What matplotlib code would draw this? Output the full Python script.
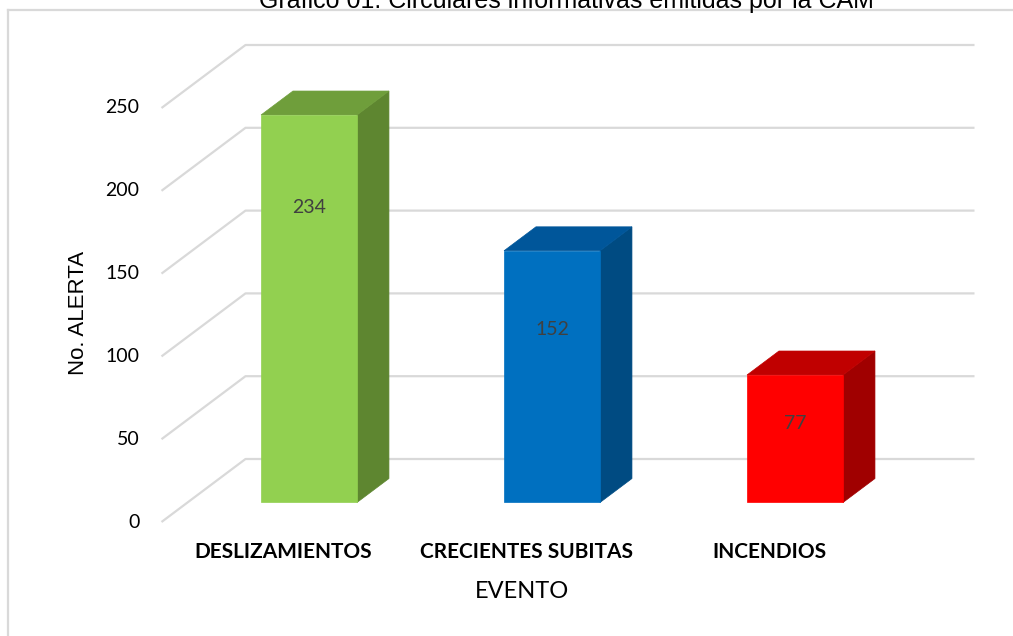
import numpy as np
import matplotlib.pyplot as plt
from matplotlib.patches import Polygon
from matplotlib.lines import Line2D

# Data
eventos = ['DESLIZAMIENTOS', 'CRECIENTES SUBITAS', 'INCENDIOS']
alertas = [234, 152, 77]
y_ticks = [0, 50, 100, 150, 200, 250]

# Face colours per bar: front, top, side
front_col = ['#92D050', '#0070C0', '#FF0000']
top_col   = ['#6F9E3B', '#00569A', '#C00000']
side_col  = ['#5E8630', '#004B82', '#A00000']

W, H = 1013, 636
fig = plt.figure(figsize=(W / 100, H / 100), dpi=100)
ax = fig.add_axes([0, 0, 1, 1])
ax.set_axis_off()

# Pseudo-3D layout: one category = 243 px, one alert = 1.656 px
PX_CAT, PX_VAL = 243.0, 1.656
X0_PX, Y0_PX = 283.0, 522.0          # category 0 / value 0 on the front plane
ax.set_xlim(-X0_PX / PX_CAT, (W - X0_PX) / PX_CAT)
ax.set_ylim(-(H - Y0_PX) / PX_VAL, Y0_PX / PX_VAL)

DX = 84 / PX_CAT   # oblique shift for full depth
DY = 63 / PX_VAL
WALL_L, WALL_R = -0.5, 2.5
BAR_W = 0.395
D_FRONT, D_BACK = 0.31, 0.69


def proj(x, v, d):
    return (x + d * DX, v + d * DY)


# Gridlines on the side and back walls
grid_kw = dict(color='#D9D9D9', lw=1.6, zorder=1, solid_capstyle='butt')
for t in y_ticks:
    pts = [proj(WALL_L, t, 0), proj(WALL_L, t, 1), proj(WALL_R, t, 1)]
    ax.plot([p[0] for p in pts], [p[1] for p in pts], **grid_kw)
    x, y = proj(WALL_L, t, 0)
    ax.text(x - 22 / PX_CAT, y, str(t), ha='right', va='center',
            fontsize=14, family='Lato', color='#000000')

# Bars
for i, (v, fc, tc, sc) in enumerate(zip(alertas, front_col, top_col, side_col)):
    xl, xr = i - BAR_W / 2, i + BAR_W / 2
    front = [proj(xl, 0, D_FRONT), proj(xr, 0, D_FRONT),
             proj(xr, v, D_FRONT), proj(xl, v, D_FRONT)]
    top = [proj(xl, v, D_FRONT), proj(xr, v, D_FRONT),
           proj(xr, v, D_BACK), proj(xl, v, D_BACK)]
    side = [proj(xr, 0, D_FRONT), proj(xr, v, D_FRONT),
            proj(xr, v, D_BACK), proj(xr, 0, D_BACK)]
    ax.add_patch(Polygon(side, closed=True, fc=sc, ec=sc, lw=0.5, zorder=2))
    ax.add_patch(Polygon(top, closed=True, fc=tc, ec=tc, lw=0.5, zorder=2))
    ax.add_patch(Polygon(front, closed=True, fc=fc, ec=fc, lw=0.5, zorder=3))

    # value label sits a bit above the middle of the front face
    lv = v * (0.55 + 0.0009 * v)
    lx, ly = proj(i, lv, D_FRONT)
    ax.text(lx, ly, str(v), ha='center', va='center', fontsize=14,
            family='Lato', color='#404040', zorder=4)

    # category label under the bar
    cx, _ = proj(i, 0, 0)
    ax.text(cx, -(552 - Y0_PX) / PX_VAL, eventos[i], ha='center', va='center',
            fontsize=15, family='Lato', fontweight='bold', color='#000000')

# Axis titles and chart title
fig.text(522 / W, 1 - 592 / H, 'EVENTO', ha='center', va='center',
         fontsize=17, family='Lato', color='#000000')
fig.text(78 / W, 1 - 313 / H, 'No. ALERTA', ha='center', va='center',
         rotation=90, fontsize=16, family='Liberation Sans', color='#000000')
fig.text(566 / W, 1 - 8 / H, 'Gráfico 01. Circulares informativas emitidas por la CAM',
         ha='center', va='baseline', fontsize=18, family='Liberation Sans',
         color='#000000')

# Chart frame
fig.add_artist(Line2D([8 / W, 8 / W], [0, 1 - 10 / H], color='#D9D9D9', lw=1.6))
fig.add_artist(Line2D([8 / W, 1], [1 - 10 / H, 1 - 10 / H], color='#D9D9D9', lw=1.6))

fig.savefig('out.png', dpi=100, facecolor='white')
